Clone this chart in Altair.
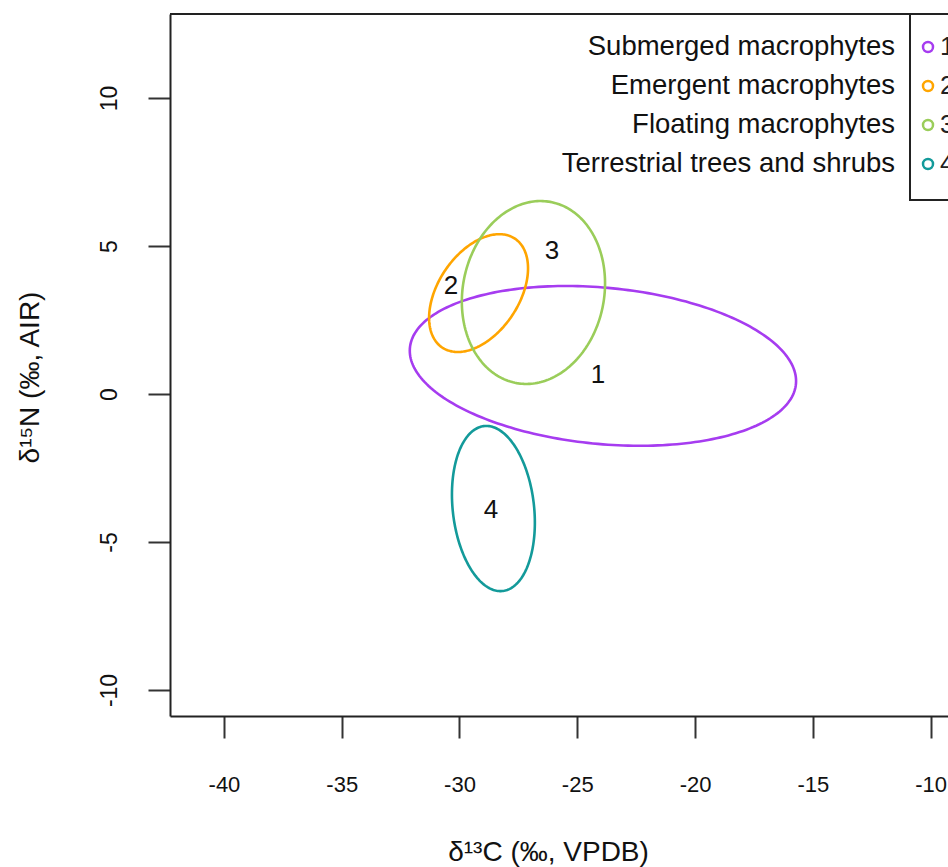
import altair as alt
import numpy as np
import pandas as pd

# ---- data ----
groups = ["1", "2", "3", "4"]
names = ["Submerged macrophytes", "Emergent macrophytes",
         "Floating macrophytes", "Terrestrial trees and shrubs"]
colors = ["#A63CF0", "#FFA500", "#9ACD5A", "#139A9A"]

# ellipse parameters (centre, spread in x and y, correlation)
center_x = [-23.91, -29.19, -26.86, -28.56]
center_y = [0.95, 3.41, 3.43, -3.87]
sd_x = [8.20, 2.10, 3.04, 1.76]
sd_y = [2.70, 1.99, 3.09, 2.79]
rho = [-0.19, 0.42, 0.10, -0.17]

# group number labels
label_x = [-24.12, -30.36, -26.07, -28.66]
label_y = [0.64, 3.65, 4.83, -3.92]

x_ticks = [-40, -35, -30, -25, -20, -15, -10]
y_ticks = [-10, -5, 0, 5, 10]
x_domain = [-42.29, -9.26]
y_domain = [-10.88, 12.84]

FONT = "Liberation Sans"
W, H = 778, 702

# ---- build ellipse outlines from parameters ----
rows = []
t = np.linspace(0, 2 * np.pi, 241)
for g, cx, cy, sx, sy, r in zip(groups, center_x, center_y, sd_x, sd_y, rho):
    xs = cx + sx * np.cos(t)
    ys = cy + sy * (r * np.cos(t) + np.sqrt(1 - r * r) * np.sin(t))
    for i, (a, b) in enumerate(zip(xs, ys)):
        rows.append({"group": g, "i": i, "x": a, "y": b})
ell = pd.DataFrame(rows)

labels = pd.DataFrame({"group": groups, "x": label_x, "y": label_y})
legend_df = pd.DataFrame({"group": groups, "name": names, "row": [1, 2, 3, 4]})
one = pd.DataFrame({"a": [0]})

xscale = alt.Scale(domain=x_domain, nice=False, zero=False)
yscale = alt.Scale(domain=y_domain, nice=False, zero=False)
cscale = alt.Scale(domain=groups, range=colors)

xaxis = alt.Axis(values=x_ticks, title="δ¹³C (‰, VPDB)", grid=False,
                 labelExpr="'' + datum.value",
                 tickSize=22, tickWidth=2, tickColor="#333",
                 domainColor="#222", domainWidth=2,
                 labelFont=FONT, labelFontSize=22, labelColor="#111",
                 labelPadding=36, labelFlush=False, labelOverlap=False,
                 titleFont=FONT, titleFontSize=28, titleFontWeight="normal",
                 titleColor="#111", titleX=378, titleY=136,
                 titleBaseline="middle", titleAlign="center")
yaxis = alt.Axis(values=y_ticks, title="δ¹⁵N (‰, AIR)", grid=False,
                 labelExpr="'' + datum.value",
                 tickSize=22, tickWidth=2, tickColor="#333",
                 domainColor="#222", domainWidth=2,
                 labelFont=FONT, labelFontSize=23, labelColor="#111",
                 labelAngle=270, labelAlign="center", labelBaseline="bottom",
                 labelPadding=27, labelFlush=False, labelOverlap=False,
                 titleFont=FONT, titleFontSize=28, titleFontWeight="normal",
                 titleColor="#111", titleAngle=270, titleX=-140, titleY=363,
                 titleBaseline="middle", titleAlign="center")

ellipses = alt.Chart(ell).mark_line(strokeWidth=2.6, clip=True).encode(
    x=alt.X("x:Q", scale=xscale, axis=xaxis),
    y=alt.Y("y:Q", scale=yscale, axis=yaxis),
    color=alt.Color("group:N", scale=cscale, legend=None),
    detail="group:N",
    order="i:Q",
)

num_labels = alt.Chart(labels).mark_text(font=FONT, fontSize=26, color="#111").encode(
    x=alt.X("x:Q", scale=xscale, axis=xaxis),
    y=alt.Y("y:Q", scale=yscale, axis=None),
    text="group:N",
)

top_border = alt.Chart(one).mark_rule(color="#222", strokeWidth=2).encode(
    x=alt.value(0), x2=alt.value(W), y=alt.value(0)
)

legend_box = alt.Chart(one).mark_rect(fill="white", stroke="#222", strokeWidth=2).encode(
    x=alt.value(740), x2=alt.value(830), y=alt.value(0), y2=alt.value(186)
)

ly = alt.Scale(domain=[1, 4], range=[33, 150], nice=False, zero=False)
leg_text = alt.Chart(legend_df).mark_text(
    font=FONT, fontSize=27.5, color="#111", align="right", baseline="middle"
).encode(
    x=alt.value(725),
    y=alt.Y("row:Q", scale=ly, axis=None),
    text="name:N",
)
leg_sym = alt.Chart(legend_df).mark_point(
    shape="circle", size=100, filled=False, strokeWidth=2.5, opacity=1
).encode(
    x=alt.value(758),
    y=alt.Y("row:Q", scale=ly, axis=None),
    color=alt.Color("group:N", scale=cscale, legend=None),
)
leg_num = alt.Chart(legend_df).mark_text(
    font=FONT, fontSize=26, color="#222", align="left", baseline="middle"
).encode(
    x=alt.value(770),
    y=alt.Y("row:Q", scale=ly, axis=None),
    text="group:N",
)

chart = alt.layer(
    ellipses, num_labels, top_border, legend_box, leg_text, leg_sym, leg_num
).resolve_scale(y="independent").properties(
    width=W, height=H,
    padding={"left": 170, "top": 14, "right": 0, "bottom": 151},
    autosize=alt.AutoSizeParams(type="none"),
    background="white",
).configure_view(stroke=None)

chart.save("out.html", embed_options={"renderer": "svg", "actions": False})
